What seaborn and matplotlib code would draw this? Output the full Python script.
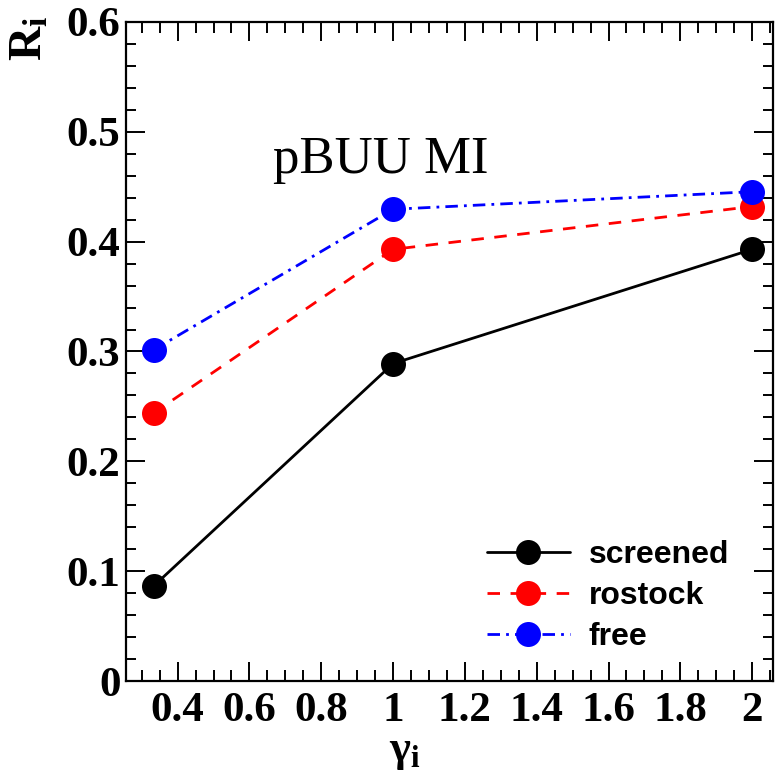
import matplotlib
matplotlib.use("Agg")
import matplotlib.pyplot as plt
import seaborn as sns
import pandas as pd
from matplotlib.ticker import MultipleLocator
from matplotlib.lines import Line2D

gamma = [1/3, 1.0, 2.0]
screened = [0.0865, 0.289, 0.393]
rostock = [0.244, 0.393, 0.432]
free = [0.3015, 0.4295, 0.4455]
series_names = ["screened", "rostock", "free"]
colors = {"screened": "black", "rostock": "#ff0000", "free": "#0000ff"}
dash_styles = {"screened": "", "rostock": (4.5, 3.8), "free": (4.5, 2.2, 1.0, 2.2)}

sns.set_theme(style="white")
plt.rcParams["font.family"] = ["Liberation Serif", "DejaVu Serif"]
plt.rcParams.update({
    "text.color": "black", "axes.labelcolor": "black",
    "xtick.color": "black", "ytick.color": "black",
    "mathtext.fontset": "custom",
    "mathtext.rm": "Liberation Serif",
    "mathtext.it": "Liberation Serif:italic",
    "mathtext.bf": "Liberation Serif:bold",
})

fig = plt.figure(figsize=(7.75, 7.78), dpi=100)
ax = fig.add_axes([126/775, 1-681/778, 647/775, (681-22)/778])

df = pd.DataFrame({
    "gamma": gamma * 3,
    "R": screened + rostock + free,
    "model": ["screened"] * 3 + ["rostock"] * 3 + ["free"] * 3,
})

sns.lineplot(data=df, x="gamma", y="R", hue="model", style="model",
             hue_order=series_names, style_order=series_names,
             palette=colors, dashes=dash_styles, markers={k: "o" for k in series_names},
             markersize=18, markeredgewidth=0, linewidth=2.0, ax=ax, legend=False)

ax.set_xlim(0.2563, 2.058)
ax.set_ylim(0, 0.6)
ax.xaxis.set_minor_locator(MultipleLocator(0.05))
ax.yaxis.set_minor_locator(MultipleLocator(0.02))

def fmt(v):
    s = f"{v:.1f}"
    if s.endswith(".0"):
        s = s[:-2]
    return s

xt = [0.4, 0.6, 0.8, 1.0, 1.2, 1.4, 1.6, 1.8, 2.0]
ax.set_xticks(xt)
ax.set_xticklabels([fmt(v) for v in xt])
yt = [0, 0.1, 0.2, 0.3, 0.4, 0.5, 0.6]
ax.set_yticks(yt)
ax.set_yticklabels([fmt(v) for v in yt])

ax.tick_params(axis="both", which="both", direction="in", top=True, right=True,
               bottom=True, left=True, color="black", width=1.4)
ax.tick_params(axis="x", which="major", length=14, labelsize=31, pad=8)
ax.tick_params(axis="x", which="minor", length=8)
ax.tick_params(axis="y", which="major", length=13.5, labelsize=31, pad=4)
ax.tick_params(axis="y", which="minor", length=7)
for lab in ax.get_xticklabels() + ax.get_yticklabels():
    lab.set_fontweight("bold")
    lab.set_color("black")

for sp in ax.spines.values():
    sp.set_color("black")
    sp.set_linewidth(1.6)
    sp.set_visible(True)

ax.set_xlabel(r"$\mathbf{\gamma_i}$", fontsize=32, color="black")
ax.xaxis.set_label_coords((405-126)/647, 1 - (752-22)/659)
ax.xaxis.label.set_verticalalignment("center")
ax.set_ylabel(r"$\mathbf{R_i}$", fontsize=34, color="black")
ax.yaxis.set_label_coords(-(126-30)/647, 1 - (38-22)/659)
ax.yaxis.label.set_verticalalignment("center")

ax.text((381-126)/647, 1 - (160-22)/659, "pBUU MI", transform=ax.transAxes,
        fontsize=38, ha="center", va="center", color="black",
        family=["Liberation Serif"])

handles = [Line2D([], [], color=colors[n], linewidth=2.0, marker="o", markersize=18,
                  markeredgewidth=0,
                  linestyle="-" if n == "screened" else ((0, dash_styles[n]))) for n in series_names]
leg = ax.legend(handles, series_names, loc="lower right", frameon=False,
                bbox_to_anchor=(0.977, 0.0), handlelength=2.6, handletextpad=0.6,
                labelspacing=0.35,
                prop={"family": "Liberation Sans", "weight": "bold", "size": 23})
for t in leg.get_texts():
    t.set_color("black")

fig.savefig("out.png", dpi=100)
